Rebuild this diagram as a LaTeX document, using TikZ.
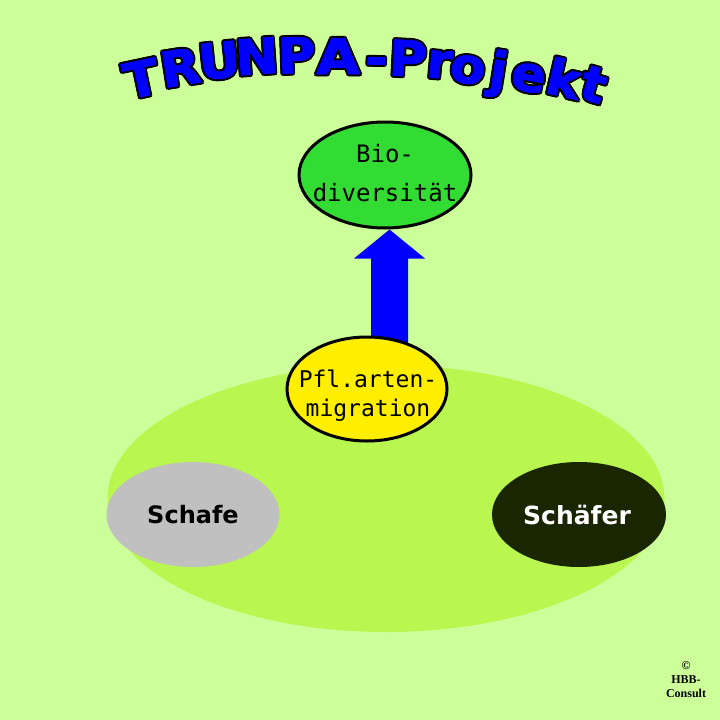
\documentclass[tikz,border=0pt]{standalone}
\usepackage{fontspec}
\setmainfont{DejaVu Sans}
\newfontfamily\monofont{DejaVu Sans Mono}
\newfontfamily\titlefont{DejaVu Sans}[BoldFeatures={FakeBold=1.8}]
\newfontfamily\serifb{Liberation Serif}
\usetikzlibrary{shapes.geometric,calc}
\pgfdeclarelayer{bg}
\pgfdeclarelayer{mid}
\pgfsetlayers{bg,mid,main}
\definecolor{bgcol}{RGB}{204,255,153}
\definecolor{fieldcol}{RGB}{185,247,80}
\definecolor{biocol}{RGB}{50,220,50}
\definecolor{pflcol}{RGB}{255,238,0}
\definecolor{sheepcol}{RGB}{192,192,192}
\definecolor{shepcol}{RGB}{26,38,0}
\definecolor{arrowblue}{RGB}{0,0,255}
\tikzset{
  ell/.style={ellipse, inner sep=0pt},
  bordered/.style={draw=black, line width=3pt},
  monotext/.style={font=\monofont\fontsize{24}{39}\selectfont, align=center, inner sep=0pt},
  sanstext/.style={font=\bfseries\fontsize{24}{28}\selectfont, inner sep=0pt},
  titlechar/.style={font=\titlefont\bfseries\fontsize{49}{49}\selectfont, anchor=base, inner sep=0pt},
}
\begin{document}
\begin{tikzpicture}[x=1pt,y=-1pt]
\useasboundingbox (0,0) rectangle (720,720);
\begin{pgfonlayer}{bg}
  \fill[bgcol] (0,0) rectangle (720,720);
  \fill[fieldcol] (386,498.5) ellipse [x radius=278.5, y radius=133.5];
\end{pgfonlayer}
% title
\foreach \c/\x/\y/\r/\s [count=\i] in {T/145/96/12/1.05, R/183/85/9/1.05, U/221/78/6/1.05, N/258/74/4/1.05, P/297/73/2/1.05, A/338/74/0/1.15, -/376/75/-1/1.1, P/407/76/-3/1.05, r/438/78/-5/1.05, o/466/83/-7/1.05, j/496/87/-9/1.05, e/526/91/-11/1.05, k/560/96/-13/1.05, t/589/101/-16/1.05}{
  \foreach \dx/\dy in {2/0,-2/0,0/2,0/-2,1.5/1.5,1.5/-1.5,-1.5/1.5,-1.5/-1.5}{
    \node[titlechar, text=black, rotate=\r, xscale=\s] at (\x+\dx,\y+\dy) {\c};
  }
  \node[titlechar, text=arrowblue, rotate=\r, xscale=\s] (ttl\i) at (\x,\y) {\c};
}
% nodes
\node[ell, bordered, fill=biocol, minimum width=172pt, minimum height=106pt] (bio) at (385,175) {};
\node[monotext] (biotext) at ($(bio)+(0,-1.5)$) {Bio-\\diversität};
\node[ell, bordered, fill=pflcol, minimum width=160pt, minimum height=104pt] (pfl) at (367,389) {};
\node[monotext, font=\monofont\fontsize{23}{29}\selectfont] (pfltext) at ($(pfl)+(1,6.5)$) {Pfl.arten-\\migration};
\node[ell, fill=sheepcol, minimum width=173pt, minimum height=105pt] (schafe) at (193,514.5) {};
\node[sanstext] (schafetext) at (schafe) {Schafe};
\node[ell, fill=shepcol, minimum width=174pt, minimum height=105pt] (schaefer) at (579,514.5) {};
\node[sanstext, text=white, font=\bfseries\fontsize{25}{28}\selectfont] (schaefertext) at ($(schaefer)+(-2,0)$) {Schäfer};
% arrow
\begin{pgfonlayer}{mid}
  \coordinate (tip) at ($(bio.south)+(4.5,0)$);
  \fill[arrowblue] (tip) -- ++(35.5,29) -- ++(-17,0) -- ++(0,88) -- ++(-37,0) -- ++(0,-88) -- ++(-17,0) -- cycle;
\end{pgfonlayer}
% copyright
\node[font=\serifb\bfseries\fontsize{12}{14}\selectfont, align=center, inner sep=0pt] (copy) at (686,680) {©\\HBB-\\Consult};
\end{tikzpicture}
\end{document}
